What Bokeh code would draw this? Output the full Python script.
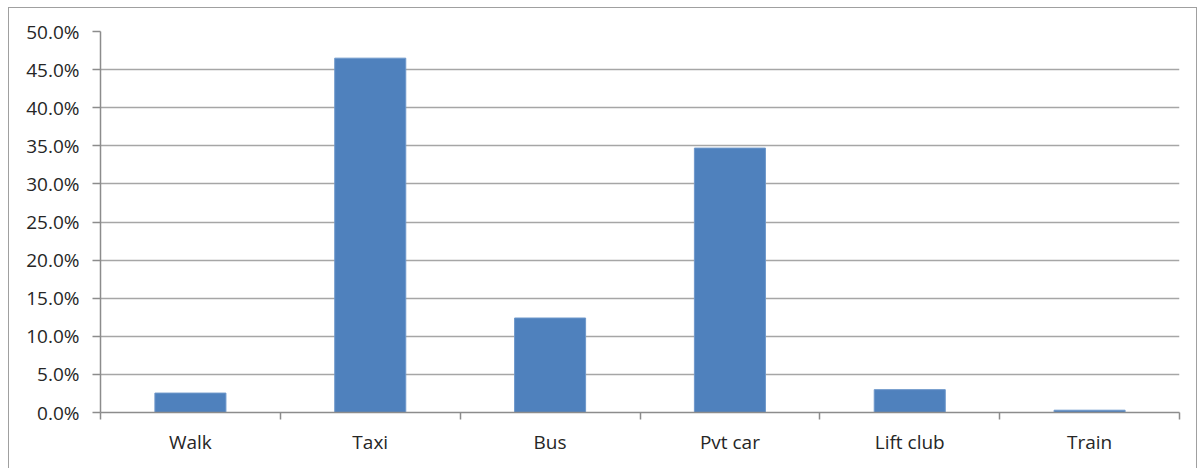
from bokeh.plotting import figure
from bokeh.models import (Range1d, LinearAxis, FixedTicker, PrintfTickFormatter,
                          ColumnDataSource, Grid)
from bokeh.embed import file_html
from bokeh.resources import INLINE

categories = ["Walk", "Taxi", "Bus", "Pvt car", "Lift club", "Train"]
shares = [2.55, 46.5, 12.4, 34.7, 3.0, 0.3]
y_ticks = [0, 5, 10, 15, 20, 25, 30, 35, 40, 45, 50]

FONT = "Open Sans"
TEXT = "#262626"
GRID = "#A6A6A6"
AXIS = "#8C8C8C"

n = len(categories)
centers = [i + 0.5 for i in range(n)]
boundaries = [float(i) for i in range(n + 1)]
src = ColumnDataSource(dict(x=centers, top=shares, cat=categories))

p = figure(width=1189, height=461, output_backend="svg", toolbar_location=None,
           x_range=Range1d(0, n), y_range=Range1d(0, 50),
           x_axis_location=None, y_axis_location=None,
           min_border_left=91, min_border_right=19, min_border_top=23,
           min_border_bottom=57)
p.grid.visible = False
p.outline_line_color = None
p.background_fill_color = "white"
p.border_fill_color = "white"
p.margin = (7, 0, 0, 8)
p.styles = {"border-left": "1.5px solid #A0A0A0",
            "border-top": "1.5px solid #A0A0A0",
            "border-right": "1.5px solid #A0A0A0"}

p.vbar(x="x", top="top", width=0.395, bottom=0, source=src,
       fill_color="#4F81BD", line_color="#6E98CB", line_width=1)

# y axis
yax = LinearAxis(ticker=FixedTicker(ticks=y_ticks),
                 formatter=PrintfTickFormatter(format="%.1f%%"))
yax.axis_line_color = AXIS
yax.axis_line_width = 1.5
yax.major_tick_line_color = AXIS
yax.major_tick_line_width = 1.5
yax.major_tick_out = 8
yax.major_tick_in = 0
yax.minor_tick_line_color = None
yax.major_label_standoff = 13
yax.major_label_text_font = FONT
yax.major_label_text_font_size = "19px"
yax.major_label_text_color = TEXT
p.add_layout(yax, "left")

# x axis: labels at category centers, tick marks at category boundaries
xax = LinearAxis(ticker=FixedTicker(ticks=centers, minor_ticks=boundaries),
                 major_label_overrides={c: cat for c, cat in zip(centers, categories)})
xax.axis_line_color = AXIS
xax.axis_line_width = 1.5
xax.major_tick_line_color = None
xax.major_tick_out = 7
xax.major_tick_in = 0
xax.minor_tick_line_color = AXIS
xax.minor_tick_line_width = 1.5
xax.minor_tick_out = 7
xax.minor_tick_in = 0
xax.major_label_standoff = 9
xax.major_label_text_font = FONT
xax.major_label_text_font_size = "19px"
xax.major_label_text_color = TEXT
p.add_layout(xax, "below")

grid = Grid(dimension=1, ticker=FixedTicker(ticks=y_ticks),
            grid_line_color=GRID, grid_line_width=1.5)
p.add_layout(grid)

open("out.html", "w").write(file_html(p, INLINE))
